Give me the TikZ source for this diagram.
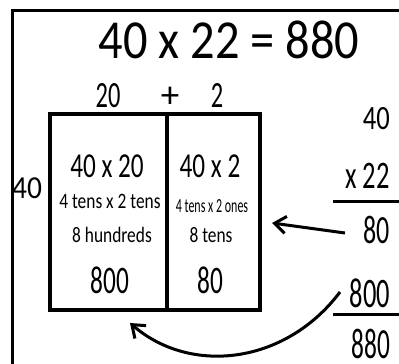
\documentclass[tikz,border=0pt]{standalone}
\usepackage{fontspec}
\setmainfont{Carlito}
\usetikzlibrary{arrows.meta}

\begin{document}
\begin{tikzpicture}[
  x=1pt, y=-1pt,
  every node/.style={inner sep=0pt},
  txt/.style 2 args={anchor=base, font=\fontsize{#1}{#1}\selectfont, xscale=#2},
  col/.style 2 args={anchor=base east, font=\fontsize{#1}{#1}\selectfont, xscale=#2},
  cell/.style={draw, line width=4pt, minimum height=196pt},
  rule/.style={line width=3pt},
  line/.style={-{Straight Barb[length=4mm, width=6mm]}, line width=3pt}
]
\useasboundingbox (0,0) rectangle (399,364);
\draw[rule] (12,364) -- (12,10) -- (399,10);

\node[txt={55}{0.88}] (eq) at (229,58) {40 x 22 = 880};

% area model
\node[cell, minimum width=117pt] (cellL) at (108.5,212) {};
\node[cell, minimum width=93pt] (cellR) at (213.5,212) {};
\node[txt={37}{0.66}] (top20) at (108,107) {20};
\node[txt={37}{1}] (plus) at (170,107) {+};
\node[txt={37}{0.66}] (top2) at (217,107) {2};
\node[txt={32}{0.92}] (side40) at (27,198) {40};

\node[txt={35}{0.72}] (p1) at (107,177) {40 x 20};
\node[txt={22}{0.79}] (w1) at (110,208) {4 tens x 2 tens};
\node[txt={22}{0.79}] (h1) at (112,242) {8 hundreds};
\node[txt={39}{0.65}] (t1) at (110,293) {800};

\node[txt={35}{0.72}] (p2) at (210,177) {40 x 2};
\node[txt={20}{0.6}] (w2) at (212,212) {4 tens x 2 ones};
\node[txt={22}{0.79}] (h2) at (211,242) {8 tens};
\node[txt={39}{0.65}] (t2) at (210,293) {80};

% standard algorithm
\node[col={34}{0.78}] (r40) at (390,129) {40};
\node[col={39}{0.68}] (r22) at (390,188) {x 22};
\node[col={40}{0.65}] (r80) at (390,243) {80};
\node[col={42}{0.63}] (r800) at (390,307) {800};
\node[col={43}{0.59}] (r880) at (390,358) {880};
\draw[rule] (333,201) -- (399,201);
\draw[rule] (333,314) -- (399,314);

\coordinate (from80) at (345,233);
\coordinate (to80) at (272,223);
\coordinate (from800) at (340,292);
\coordinate (to800) at (130,323);
\draw[line] (from80) -- (to80);
\draw[line] (from800) .. controls (285,365) and (190,375) .. (to800);
\end{tikzpicture}
\end{document}
